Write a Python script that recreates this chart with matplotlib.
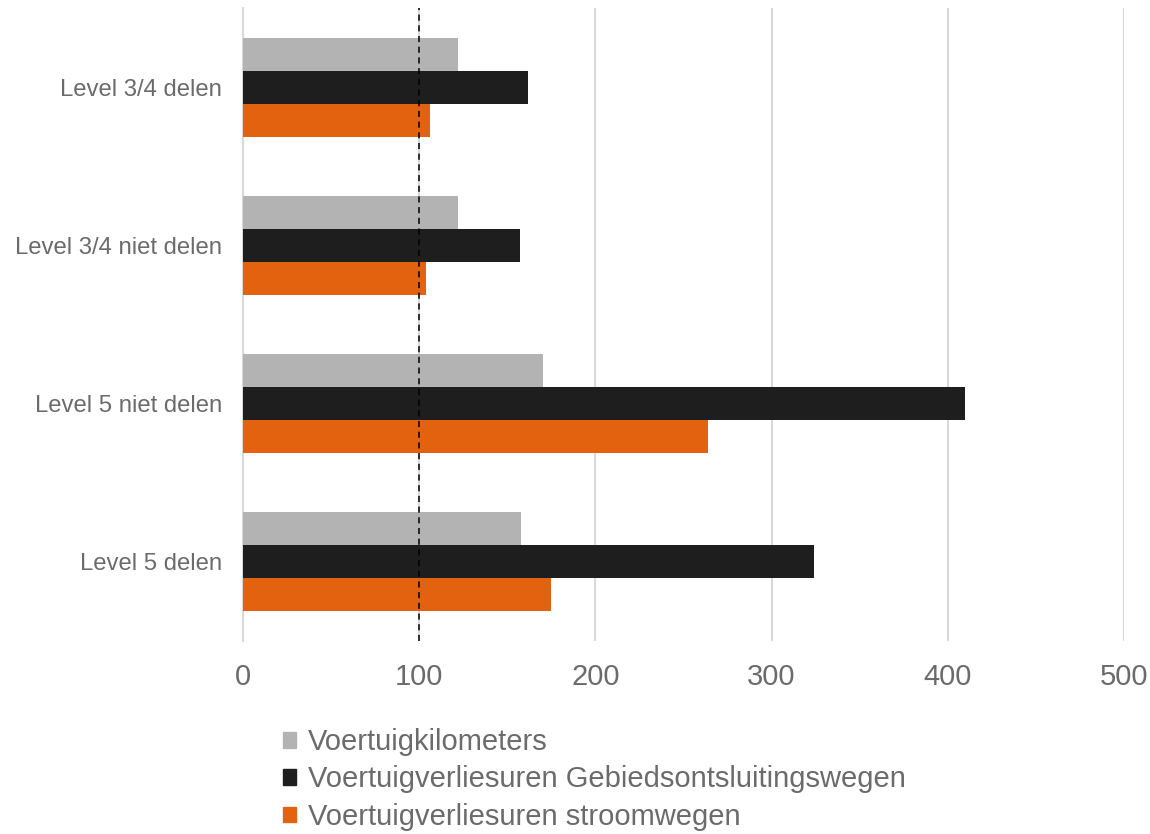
import matplotlib.pyplot as plt
from matplotlib.patches import Patch

# categories from top to bottom
categories = ["Level 3/4 delen", "Level 3/4 niet delen", "Level 5 niet delen", "Level 5 delen"]
series_names = [
    "Voertuigkilometers",
    "Voertuigverliesuren Gebiedsontsluitingswegen",
    "Voertuigverliesuren stroomwegen",
]
kilometers = [122, 122, 170, 158]
verlies_gebied = [162, 157, 410, 324]
verlies_stroom = [106, 104, 264, 175]
xticks = [0, 100, 200, 300, 400, 500]

colors = ["#B3B3B3", "#1E1E1E", "#E36210"]
text_color = "#6B6B6B"

plt.rcParams["font.family"] = ["Liberation Sans", "DejaVu Sans"]

fig = plt.figure(figsize=(11.5, 8.34), dpi=100)
ax = fig.add_axes([0.2113, 0.2314, 0.7661, 0.759])

ypos = [3, 2, 1, 0]
h = 0.209
for vals, off, col in zip([kilometers, verlies_gebied, verlies_stroom], [h, 0, -h], colors):
    ax.barh([y + off for y in ypos], vals, height=h, color=col, zorder=3)

# reference line at 100
ax.axvline(100, color="black", linestyle=(0, (4, 3)), linewidth=1.1, zorder=4)

ax.set_xlim(0, 500)
ax.set_ylim(-0.5, 3.5)
ax.set_xticks(xticks)
ax.set_yticks(ypos)
ax.set_yticklabels(categories)
ax.grid(axis="x", color="#D9D9D9", linewidth=1.5, zorder=0)
for s in ["top", "right", "bottom"]:
    ax.spines[s].set_visible(False)
ax.spines["left"].set_color("#D9D9D9")
ax.spines["left"].set_linewidth(1.5)
ax.tick_params(axis="x", length=0, pad=15.5, labelsize=21, labelcolor=text_color)
ax.tick_params(axis="y", length=0, pad=15, labelsize=17.2, labelcolor=text_color)

handles = [Patch(color=c) for c in colors]
leg = fig.legend(
    handles,
    series_names,
    loc="upper left",
    frameon=False,
    fontsize=21,
    labelcolor=text_color,
    handlelength=0.45,
    handleheight=0.45,
    handletextpad=0.4,
    labelspacing=0.32,
    borderpad=0,
    borderaxespad=0,
)
leg.set_bbox_to_anchor((0.246, 0.127), transform=fig.transFigure)

fig.savefig("out.png", dpi=100)
